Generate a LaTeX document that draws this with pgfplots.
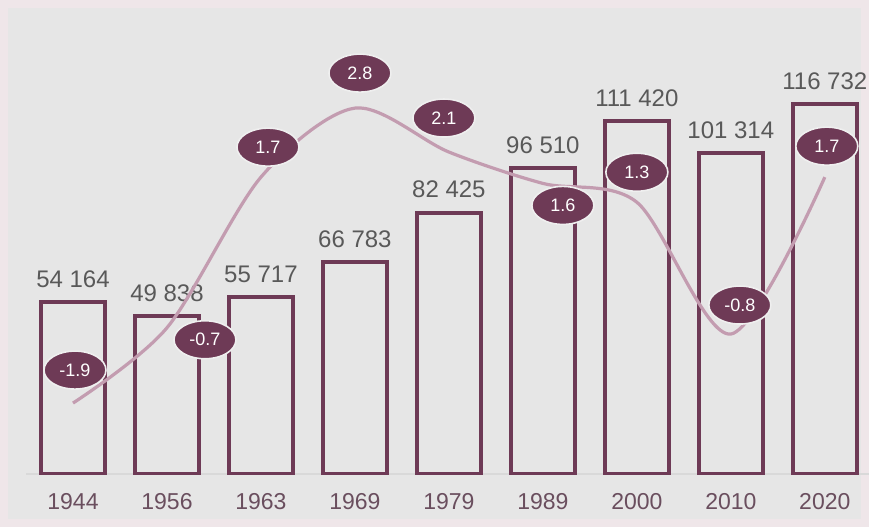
\documentclass[border=0pt]{standalone}
\usepackage{pgfplots}
\pgfplotsset{compat=1.18}
\usepackage{pgfplotstable}
\usetikzlibrary{shapes.geometric}
\usepackage{fontspec}
\setmainfont{Liberation Sans}

\definecolor{bg}{HTML}{E6E6E6}
\definecolor{wine}{HTML}{6E3A56}
\definecolor{mauve}{HTML}{C39CB0}
\definecolor{valgray}{HTML}{595959}
\definecolor{ticktxt}{HTML}{6A4E5E}
\definecolor{framec}{HTML}{EFE6E9}

% population
\pgfplotstableread{
x  y
0  54164
1  49838
2  55717
3  66783
4  82425
5  96510
6  111420
7  101314
8  116732
}\population

% growth rate, with label offsets (pt)
\pgfplotstableread{
x  y     dx    dy
0  -1.9  1     16.5
1  -0.7  19    -6
2  1.7   3.5   15
3  2.8   2.5   17.5
4  2.1   -2.5  17
5  1.6   10    -11
6  1.3   0     15
7  -0.8  4.5   14.5
8  1.7   1     15.5
}\growth

\begin{document}
\begin{tikzpicture}
\fill[bg] (0,0) rectangle (434.5pt,263.5pt);
\draw[framec, line width=4pt] (2pt,2pt) rectangle (432.5pt,261.5pt);

\begin{axis}[
  at={(13pt,26.5pt)}, anchor=south west,
  scale only axis, width=421.5pt, height=225pt,
  xmin=-0.5, xmax=8.47, ymin=0, ymax=142000,
  axis x line*=bottom, axis y line=none,
  x axis line style={draw=gray!30, line width=0.6pt},
  xtick=data,
  xticklabels={1944,1956,1963,1969,1979,1989,2000,2010,2020},
  major tick length=0pt,
  xticklabel style={text=ticktxt, font=\fontsize{11.5}{13}\selectfont, yshift=-6pt},
  ytick=\empty,
  ybar, bar width=32pt,
  /pgf/number format/.cd, fixed, precision=0, 1000 sep={\ }, assume math mode=true,
  /pgfplots/.cd,
  nodes near coords,
  nodes near coords style={text=valgray, font=\fontsize{12}{14}\selectfont, yshift=3pt},
]
\addplot[draw=wine, fill=none, line width=2pt] table[x=x, y=y] {\population};
\end{axis}

\begin{axis}[
  at={(13pt,26.5pt)}, anchor=south west,
  scale only axis, width=421.5pt, height=225pt,
  xmin=-0.5, xmax=8.47, ymin=-3.03, ymax=4.14,
  hide axis,
  /pgf/number format/.cd, fixed, fixed zerofill, precision=1, assume math mode=true,
  /pgfplots/.cd,
  visualization depends on={\thisrow{dx} \as \dx},
  visualization depends on={\thisrow{dy} \as \dy},
  nodes near coords,
  nodes near coords style={anchor=center, xshift=\dx pt, yshift=\dy pt,
    ellipse, fill=wine, draw=white!35!bg, line width=0.8pt,
    minimum width=31pt, minimum height=19pt, inner sep=0pt,
    text=white, font=\fontsize{9}{10}\selectfont},
]
\addplot[mauve, line width=1.6pt, smooth, mark=none] table[x=x, y=y] {\growth};
\end{axis}

\pgfresetboundingbox
\useasboundingbox (0,0) rectangle (434.5pt,263.5pt);
\end{tikzpicture}
\end{document}
